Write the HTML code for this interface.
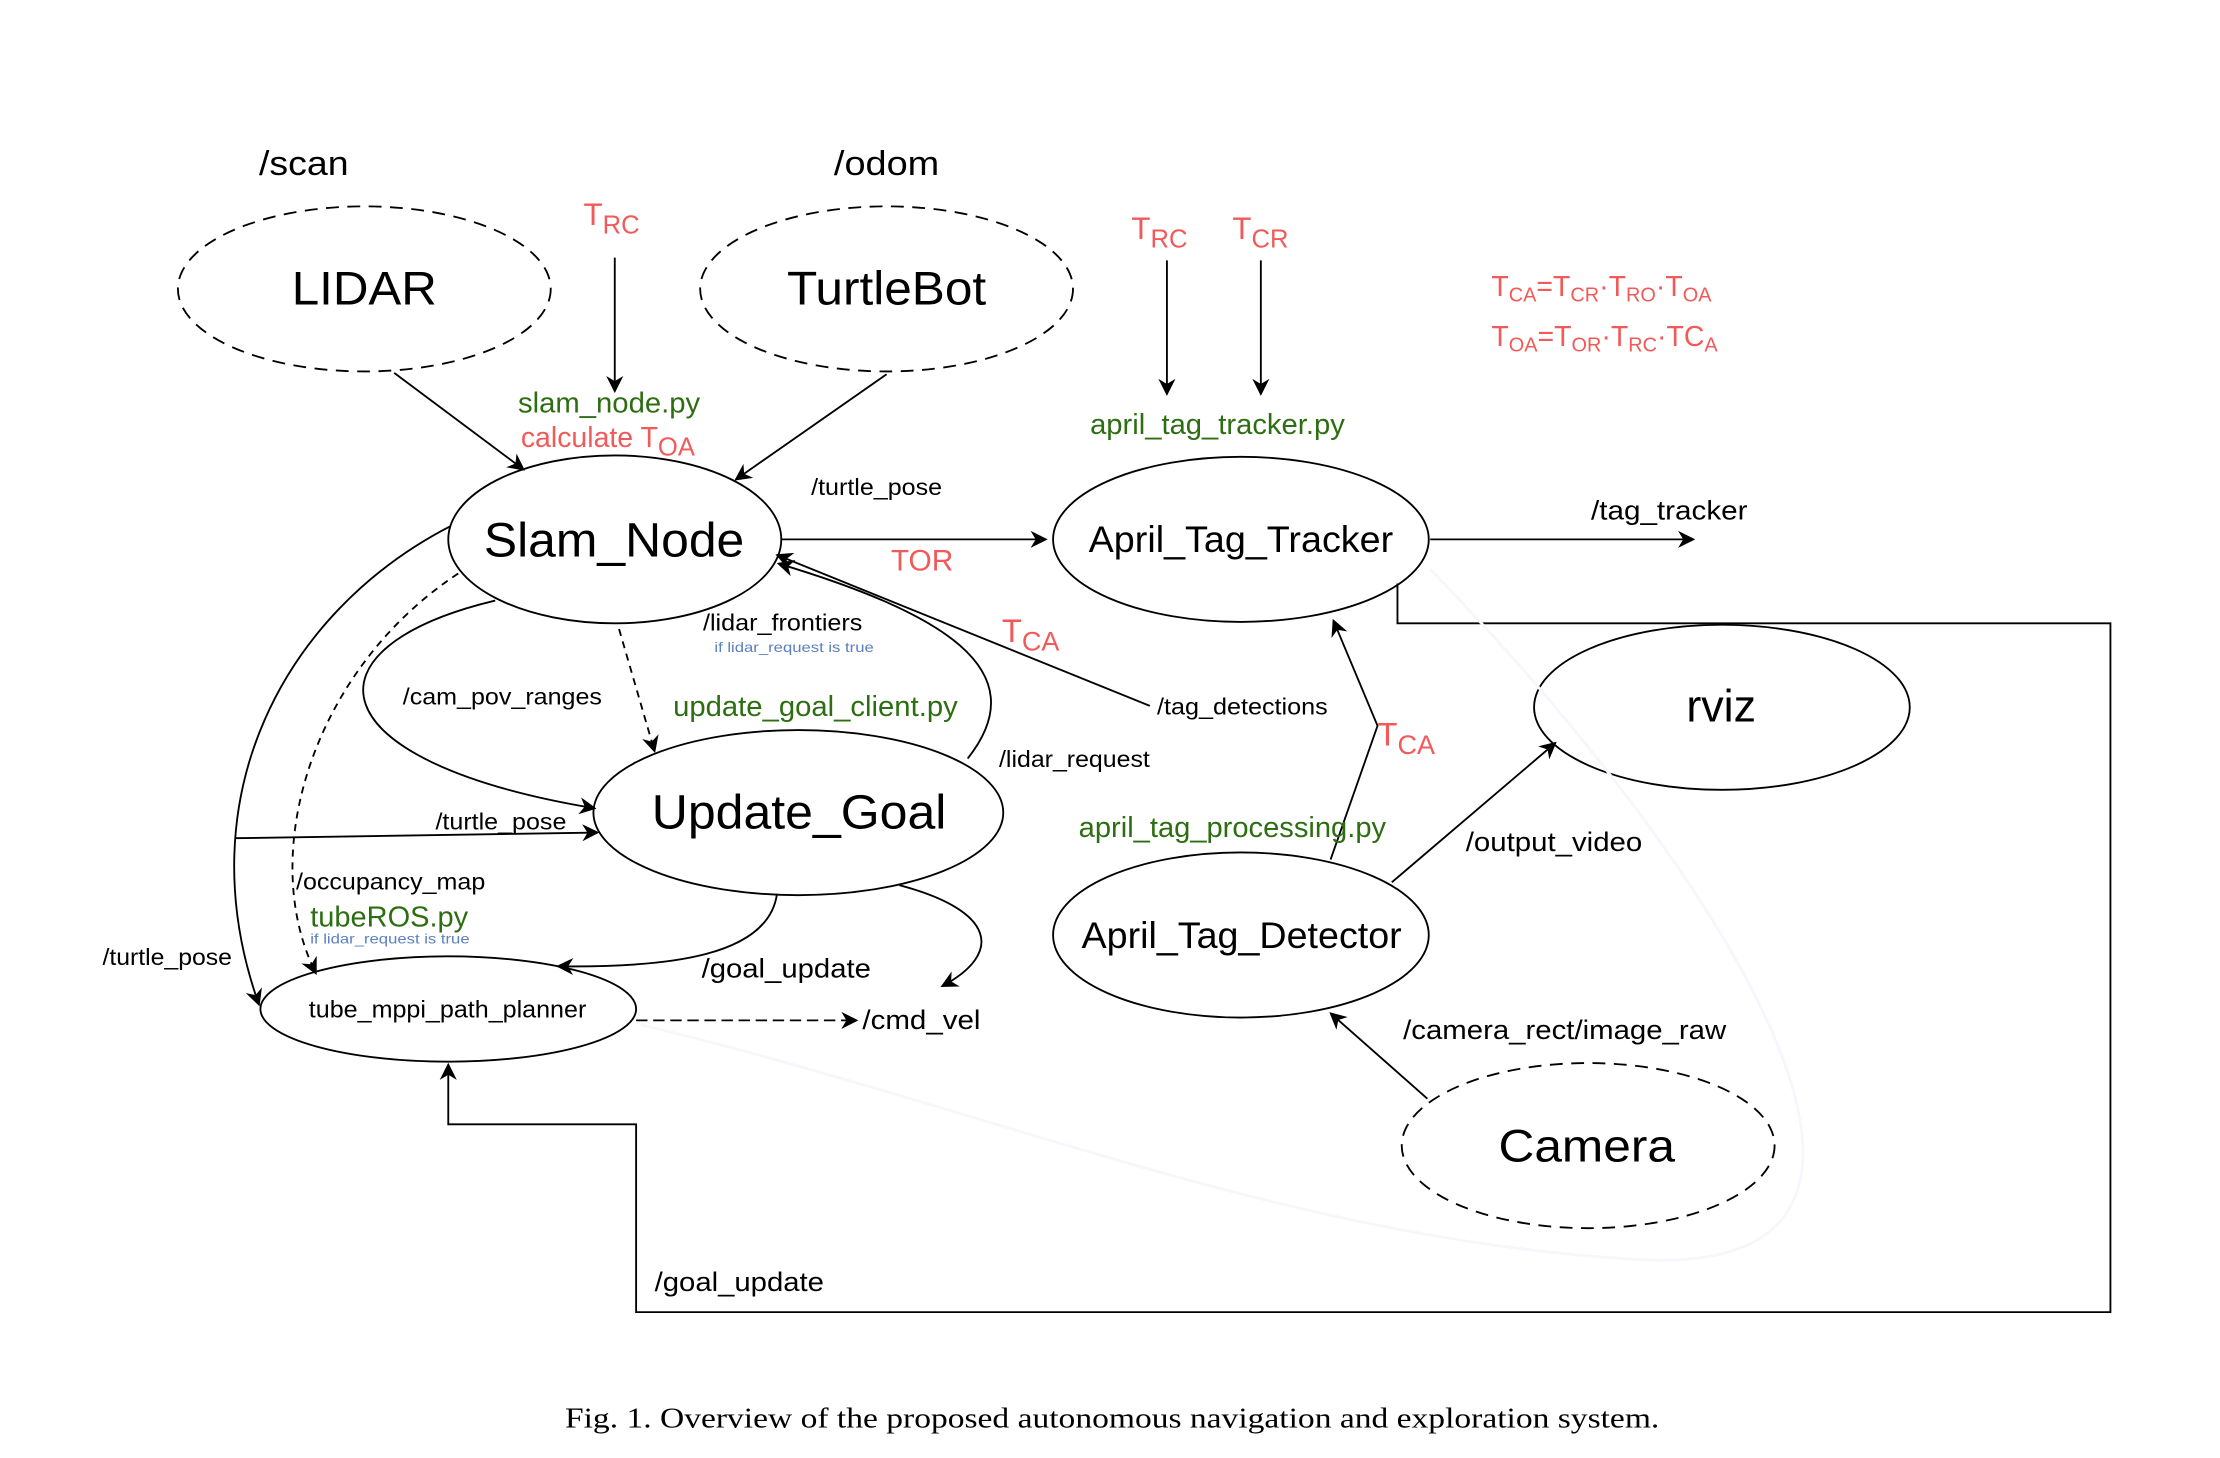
<!DOCTYPE html>
<html><head><meta charset="utf-8"><style>
html,body{margin:0;padding:0;background:#fff;}
svg{display:block;}
text{font-family:"Liberation Sans",Arial,sans-serif;}
</style></head><body>
<svg width="2220" height="1458" viewBox="0 0 1560 1024.5" preserveAspectRatio="none" xmlns="http://www.w3.org/2000/svg">
<defs>
<marker id="a" viewBox="0 0 10 10" refX="9" refY="5" markerWidth="12" markerHeight="12" orient="auto" markerUnits="userSpaceOnUse"><path d="M0,0 L10,5 L0,10 L3,5 z" fill="#000"/></marker>
</defs>
<g fill="none" stroke="#000" stroke-width="1.3">
<ellipse cx="256" cy="203" rx="131" ry="58" stroke-dasharray="9,6"/>
<ellipse cx="623" cy="203" rx="131" ry="58" stroke-dasharray="9,6"/>
<ellipse cx="1116" cy="805" rx="131" ry="58" stroke-dasharray="9,6"/>
<ellipse cx="432" cy="379" rx="117" ry="59"/>
<ellipse cx="872" cy="379" rx="132" ry="58"/>
<ellipse cx="1210" cy="497" rx="132" ry="58"/>
<ellipse cx="561" cy="571" rx="144" ry="58"/>
<ellipse cx="872" cy="657" rx="132" ry="58"/>
<ellipse cx="315" cy="709" rx="132" ry="37"/>
<line x1="432" y1="181" x2="432" y2="275" marker-end="url(#a)"/>
<line x1="820" y1="183" x2="820" y2="277" marker-end="url(#a)"/>
<line x1="886" y1="183" x2="886" y2="277" marker-end="url(#a)"/>
<line x1="277" y1="262" x2="368" y2="330" marker-end="url(#a)"/>
<line x1="623" y1="263" x2="517" y2="337" marker-end="url(#a)"/>
<line x1="549" y1="379" x2="735" y2="379" marker-end="url(#a)"/>
<line x1="1005" y1="379" x2="1190" y2="379" marker-end="url(#a)"/>
<line x1="808" y1="496" x2="546" y2="390" marker-end="url(#a)"/>
<path d="M680,533 C730,470 660,430 547,396" marker-end="url(#a)"/>
<line x1="435" y1="442" x2="460" y2="528" stroke-dasharray="5,4" marker-end="url(#a)"/>
<path d="M348,422 C210,455 220,535 418,568" marker-end="url(#a)"/>
<line x1="165" y1="589" x2="420" y2="585" marker-end="url(#a)"/>
<path d="M316,370 C200,430 130,560 182,706" marker-end="url(#a)"/>
<path d="M322,403 C220,470 180,600 222,684" stroke-dasharray="5,4" marker-end="url(#a)"/>
<path d="M546,628 C540,672 470,680 392,679" marker-end="url(#a)"/>
<path d="M632,622 C700,640 705,670 662,693" marker-end="url(#a)"/>
<line x1="447" y1="717" x2="602" y2="717" stroke-dasharray="8,4" marker-end="url(#a)"/>
<polyline points="935,604 968,510 937,436" marker-end="url(#a)"/>
<line x1="978" y1="620" x2="1093" y2="522" marker-end="url(#a)"/>
<line x1="1003" y1="772" x2="935" y2="712" marker-end="url(#a)"/>
<polyline points="982,410 982,438 1483,438 1483,922 447,922 447,790 315,790 315,748" marker-end="url(#a)"/>
</g>
<path d="M1005,400 C1200,600 1400,900 1150,885 C900,870 700,780 450,720" fill="none" stroke="#f6f7fc" stroke-width="2"/>
<g fill="#000">
<text x="182" y="123" font-size="24" textLength="63" lengthAdjust="spacingAndGlyphs">/scan</text>
<text x="586" y="123" font-size="24" textLength="74" lengthAdjust="spacingAndGlyphs">/odom</text>
<text x="205" y="214" font-size="33" textLength="102" lengthAdjust="spacingAndGlyphs">LIDAR</text>
<text x="553" y="214" font-size="33" textLength="140" lengthAdjust="spacingAndGlyphs">TurtleBot</text>
<text x="340" y="391" font-size="34" textLength="183" lengthAdjust="spacingAndGlyphs">Slam_Node</text>
<text x="765" y="388" font-size="26" textLength="214" lengthAdjust="spacingAndGlyphs">April_Tag_Tracker</text>
<text x="1185" y="507" font-size="32" textLength="49" lengthAdjust="spacingAndGlyphs">rviz</text>
<text x="458" y="582" font-size="34" textLength="207" lengthAdjust="spacingAndGlyphs">Update_Goal</text>
<text x="760" y="666" font-size="26" textLength="225" lengthAdjust="spacingAndGlyphs">April_Tag_Detector</text>
<text x="1053" y="816" font-size="32" textLength="124" lengthAdjust="spacingAndGlyphs">Camera</text>
<text x="217" y="715" font-size="17" textLength="195" lengthAdjust="spacingAndGlyphs">tube_mppi_path_planner</text>
<text x="570" y="348" font-size="16" textLength="92" lengthAdjust="spacingAndGlyphs">/turtle_pose</text>
<text x="1118" y="365" font-size="19" textLength="110" lengthAdjust="spacingAndGlyphs">/tag_tracker</text>
<text x="494" y="443" font-size="16" textLength="112" lengthAdjust="spacingAndGlyphs">/lidar_frontiers</text>
<text x="283" y="495" font-size="16" textLength="140" lengthAdjust="spacingAndGlyphs">/cam_pov_ranges</text>
<text x="813" y="502" font-size="16" textLength="120" lengthAdjust="spacingAndGlyphs">/tag_detections</text>
<text x="702" y="539" font-size="16" textLength="106" lengthAdjust="spacingAndGlyphs">/lidar_request</text>
<text x="306" y="583" font-size="16" textLength="92" lengthAdjust="spacingAndGlyphs">/turtle_pose</text>
<text x="208" y="625" font-size="16" textLength="133" lengthAdjust="spacingAndGlyphs">/occupancy_map</text>
<text x="72" y="678" font-size="16" textLength="91" lengthAdjust="spacingAndGlyphs">/turtle_pose</text>
<text x="493" y="687" font-size="19" textLength="119" lengthAdjust="spacingAndGlyphs">/goal_update</text>
<text x="606" y="723" font-size="19" textLength="83" lengthAdjust="spacingAndGlyphs">/cmd_vel</text>
<text x="1030" y="598" font-size="19" textLength="124" lengthAdjust="spacingAndGlyphs">/output_video</text>
<text x="986" y="730" font-size="19" textLength="227" lengthAdjust="spacingAndGlyphs">/camera_rect/image_raw</text>
<text x="460" y="907" font-size="19" textLength="119" lengthAdjust="spacingAndGlyphs">/goal_update</text>
</g>
<g fill="#2d6e12">
<text x="364" y="290" font-size="20" textLength="128" lengthAdjust="spacingAndGlyphs">slam_node.py</text>
<text x="473" y="503" font-size="20" textLength="200" lengthAdjust="spacingAndGlyphs">update_goal_client.py</text>
<text x="766" y="305" font-size="20" textLength="179" lengthAdjust="spacingAndGlyphs">april_tag_tracker.py</text>
<text x="758" y="588" font-size="20" textLength="216" lengthAdjust="spacingAndGlyphs">april_tag_processing.py</text>
<text x="218" y="651" font-size="20" textLength="111" lengthAdjust="spacingAndGlyphs">tubeROS.py</text>
</g>
<g fill="#5b7fc0">
<text x="502" y="458" font-size="10" textLength="112" lengthAdjust="spacingAndGlyphs">if lidar_request is true</text>
<text x="218" y="663" font-size="10" textLength="112" lengthAdjust="spacingAndGlyphs">if lidar_request is true</text>
</g>
<g fill="#f25a5a">
<text x="410" y="158" font-size="22">T<tspan font-size="18" dy="6">RC</tspan></text>
<text x="366" y="314" font-size="20">calculate T<tspan font-size="18" dy="6">OA</tspan></text>
<text x="795" y="168" font-size="22">T<tspan font-size="18" dy="6">RC</tspan></text>
<text x="866" y="168" font-size="22">T<tspan font-size="18" dy="6">CR</tspan></text>
<text x="626" y="401" font-size="21">TOR</text>
<text x="704" y="451" font-size="23">T<tspan font-size="19" dy="6">CA</tspan></text>
<text x="968" y="524" font-size="23">T<tspan font-size="19" dy="6">CA</tspan></text>
<text x="1048" y="208" font-size="20">T<tspan font-size="14" dy="4">CA</tspan><tspan dy="-4">=T</tspan><tspan font-size="14" dy="4">CR</tspan><tspan dy="-4">·T</tspan><tspan font-size="14" dy="4">RO</tspan><tspan dy="-4">·T</tspan><tspan font-size="14" dy="4">OA</tspan></text>
<text x="1048" y="243" font-size="20">T<tspan font-size="14" dy="4">OA</tspan><tspan dy="-4">=T</tspan><tspan font-size="14" dy="4">OR</tspan><tspan dy="-4">·T</tspan><tspan font-size="14" dy="4">RC</tspan><tspan dy="-4">·TC</tspan><tspan font-size="14" dy="4">A</tspan></text>
</g>
<text x="397" y="1003" font-size="20" fill="#000" textLength="769" lengthAdjust="spacingAndGlyphs" style="font-family:'Liberation Serif',serif">Fig. 1.  Overview of the proposed autonomous navigation and exploration system.</text>
</svg>
</body></html>
